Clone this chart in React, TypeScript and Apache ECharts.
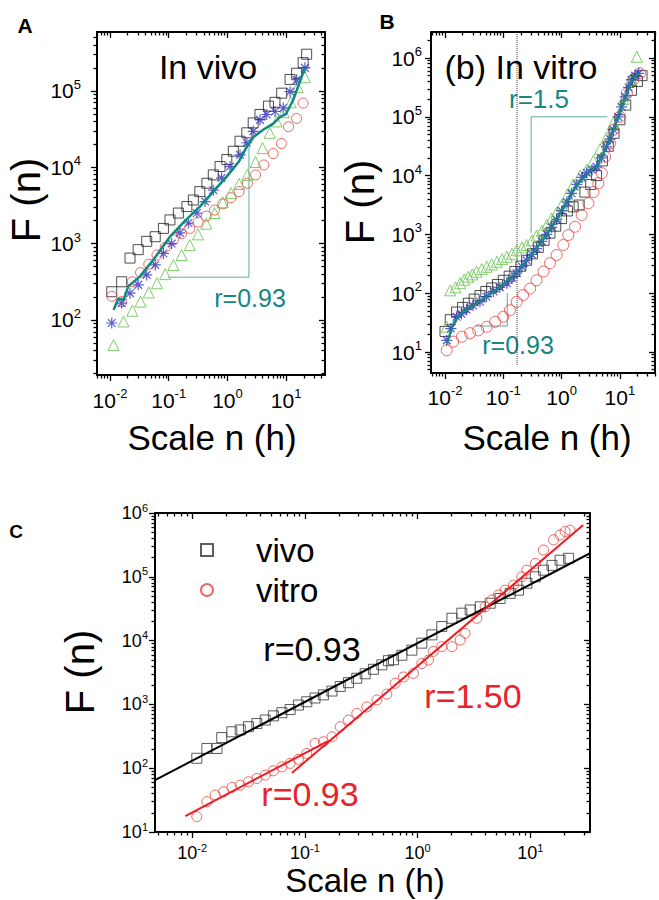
import React, { useEffect, useRef } from 'react';
import * as echarts from 'echarts';

const FONT = '"Liberation Sans", Arial, Helvetica, sans-serif';

// ---------- tick labels (decades) ----------
const xDecadesA = [0.01, 0.1, 1, 10];
const yDecadesA = [100, 1000, 10000, 100000];
const xDecadesB = [0.01, 0.1, 1, 10];
const yDecadesB = [10, 100, 1000, 10000, 100000, 1000000];
const xDecadesC = [0.01, 0.1, 1, 10];
const yDecadesC = [10, 100, 1000, 10000, 100000, 1000000];

// ---------- Panel A (in vivo) ----------
const aSqX = [0.0107, 0.0158, 0.0219, 0.0302, 0.0422, 0.0589, 0.0813, 0.105, 0.146, 0.204, 0.263, 0.339, 0.447, 0.575, 0.75, 0.977, 1.26, 1.64, 2.14, 2.75, 3.59, 5.01, 6.46, 8.41, 11.7, 15.1, 19.5, 22.4];
const aSqY = [234, 316, 646, 832, 1070, 1230, 1580, 2040, 2510, 3050, 3720, 4790, 6170, 7940, 10200, 12600, 16200, 21900, 28200, 38000, 49000, 63100, 70800, 93300, 141000, 170000, 234000, 302000];
const aCiX = [0.0107, 0.0158, 0.024, 0.0331, 0.0457, 0.0631, 0.0871, 0.12, 0.166, 0.229, 0.316, 0.437, 0.603, 0.832, 1.15, 1.58, 2.19, 3.02, 4.17, 6.03, 8.32, 11.0, 15.1, 19.5];
const aCiY = [204, 174, 316, 417, 537, 708, 891, 1120, 1350, 1580, 1910, 2290, 2750, 3310, 3980, 4790, 6170, 7940, 10700, 15100, 20400, 33900, 43600, 69200];
const aTrX = [0.0115, 0.017, 0.024, 0.0331, 0.0457, 0.0631, 0.0871, 0.12, 0.166, 0.229, 0.316, 0.437, 0.603, 0.832, 1.15, 1.58, 2.19, 3.02, 3.98, 5.25, 6.92, 9.12, 12.0, 15.8, 20.9];
const aTrY = [46.8, 95.5, 132, 174, 229, 302, 398, 525, 708, 955, 1320, 1820, 2510, 3470, 4570, 6030, 7940, 11700, 17800, 28200, 39800, 52500, 70800, 112000, 151000];
const aStX = [0.0107, 0.0158, 0.0219, 0.0302, 0.0422, 0.0589, 0.0813, 0.112, 0.155, 0.216, 0.302, 0.417, 0.575, 0.794, 1.11, 1.64, 2.14, 2.75, 3.59, 4.68, 6.46, 8.91, 11.7, 15.1, 20.9];
const aStY = [91.2, 166, 224, 288, 389, 525, 741, 1000, 1380, 1860, 2510, 3550, 5010, 7240, 10200, 14500, 20900, 29500, 41700, 49000, 53700, 59600, 97700, 140000, 200000];
const aAvgX = [0.0115, 0.0138, 0.017, 0.0204, 0.0324, 0.055, 0.105, 0.191, 0.339, 0.575, 0.977, 1.58, 2.14, 2.82, 4.07, 6.03, 7.94, 10, 13.2, 20.9];
const aAvgY = [135, 191, 182, 275, 372, 617, 1230, 2000, 3050, 4790, 7590, 12000, 18600, 25100, 30900, 37200, 45700, 50100, 75900, 200000];
const aSlopeX = [0.097, 2.33, 2.33];
const aSlopeY = [363, 363, 21000];

// ---------- Panel B (in vitro) ----------
const bSqX = [0.01, 0.0123, 0.0158, 0.02, 0.0251, 0.0316, 0.0398, 0.0501, 0.0631, 0.0794, 0.1, 0.126, 0.158, 0.2, 0.251, 0.316, 0.398, 0.501, 0.631, 0.794, 1.0, 1.26, 1.58, 2.0, 2.51, 3.16, 3.98, 5.01, 6.31, 7.94, 10, 12.6, 15.8, 20, 24];
const bSqY = [22.4, 35.5, 47.9, 57.5, 67.6, 79.4, 91.2, 107, 123, 141, 166, 195, 234, 288, 363, 468, 603, 794, 1050, 1380, 1860, 2510, 2950, 3160, 5250, 7080, 10000, 17800, 31600, 52500, 89100, 158000, 282000, 398000, 501000];
const bCiX = [0.0107, 0.0138, 0.0195, 0.0269, 0.0372, 0.0519, 0.0724, 0.1, 0.13, 0.17, 0.219, 0.288, 0.372, 0.49, 0.631, 0.822, 1.07, 1.3, 1.7, 2.21, 2.88, 3.51, 4.27, 4.9, 5.56, 6.76, 7.76, 10, 13.2, 17.0, 22.1];
const bCiY = [10.7, 15.0, 18.2, 20.9, 23.4, 26.9, 32.7, 39.8, 51.3, 71.6, 93.3, 120, 166, 234, 324, 447, 661, 977, 1350, 2140, 3390, 5250, 7410, 11000, 20900, 35500, 60300, 100000, 251000, 427000, 550000];
const bTrX = [0.0107, 0.0123, 0.0151, 0.0182, 0.0214, 0.0251, 0.0295, 0.0347, 0.0427, 0.0519, 0.0631, 0.0776, 0.0955, 0.115, 0.141, 0.17, 0.209, 0.251, 0.309, 0.372, 0.457, 0.556, 0.676, 0.822, 1.0, 1.26, 1.58, 2.07, 2.69, 3.51, 4.57, 5.89, 7.76, 11.5, 15.8, 19.5];
const bTrY = [26.9, 112, 126, 148, 170, 191, 209, 232, 257, 282, 309, 343, 380, 417, 468, 537, 600, 661, 794, 955, 1150, 1450, 1860, 2340, 3160, 4790, 7080, 10000, 12600, 17800, 28200, 44700, 79400, 200000, 447000, 1050000];
const bStX = [0.0107, 0.0126, 0.0158, 0.0191, 0.0234, 0.0302, 0.0398, 0.0513, 0.0676, 0.0871, 0.115, 0.141, 0.17, 0.209, 0.251, 0.309, 0.372, 0.457, 0.556, 0.676, 0.822, 1.0, 1.23, 1.48, 1.82, 2.24, 2.69, 3.31, 3.98, 4.79, 5.89, 6.76, 7.76, 9.33, 10.7, 12.3, 14.1, 15.8, 18.2, 20.9];
const bStY = [15.8, 25.1, 39.8, 44.7, 52.5, 61.7, 71.6, 87.1, 107, 126, 148, 182, 219, 282, 363, 457, 575, 759, 1000, 1320, 1780, 2510, 3550, 5010, 7080, 9330, 11200, 12600, 14100, 20000, 30900, 41700, 60300, 100000, 148000, 219000, 316000, 427000, 501000, 550000];
const bAvgX = [0.0107, 0.0141, 0.02, 0.0398, 0.0794, 0.158, 0.316, 0.562, 1.0, 1.78, 2.82, 3.98, 5.62, 7.94, 11.2, 15.8, 20.9];
const bAvgY = [14.1, 31.6, 47.9, 74.1, 120, 209, 470, 1000, 2510, 6760, 11000, 14100, 28200, 63100, 166000, 398000, 550000];
const bSlopeHiX = [0.30, 0.30, 6.1];
const bSlopeHiY = [1070, 100000, 100000];
const bSlopeLoX = [0.033, 0.117, 0.117];
const bSlopeLoY = [27.7, 27.7, 100];
const bCrossX = [0.172, 0.172];
const bCrossY = [6, 2750000];

// ---------- Panel C (vivo vs vitro) ----------
const cSqX = [0.011, 0.0135, 0.0166, 0.0183, 0.0225, 0.0267, 0.0316, 0.0375, 0.0445, 0.0526, 0.0625, 0.074, 0.0877, 0.104, 0.123, 0.146, 0.174, 0.206, 0.244, 0.289, 0.343, 0.406, 0.482, 0.552, 0.612, 0.726, 0.89, 1.09, 1.34, 1.64, 2.02, 2.47, 2.93, 3.6, 4.41, 5.4, 6.64, 7.87, 9.33, 11.1, 13.1, 15.6, 18.4, 21.9];
const cSqY = [143, 204, 204, 302, 372, 398, 447, 501, 569, 661, 741, 832, 977, 1100, 1260, 1410, 1620, 1910, 2190, 2570, 3020, 3550, 4170, 4840, 5010, 5890, 7080, 9120, 12300, 16600, 22400, 26900, 30200, 33900, 38500, 45700, 55000, 61700, 79400, 100000, 127000, 151000, 182000, 195000];
const cCiX = [0.011, 0.0135, 0.016, 0.019, 0.0225, 0.0267, 0.0316, 0.0375, 0.0445, 0.0526, 0.0625, 0.074, 0.0877, 0.104, 0.123, 0.146, 0.174, 0.206, 0.244, 0.289, 0.355, 0.436, 0.534, 0.633, 0.75, 0.92, 1.09, 1.25, 1.38, 1.64, 2.02, 2.39, 2.64, 3.36, 3.98, 4.57, 5.22, 5.98, 7.1, 8.41, 9.33, 11.1, 13.1, 16.1, 18.4, 20.4, 22.6];
const cCiY = [17.4, 29.9, 38, 42.7, 50, 54, 61.3, 69, 78, 91, 105, 119, 138, 170, 245, 260, 310, 447, 569, 724, 912, 1175, 1450, 2140, 2690, 3060, 4370, 4950, 6760, 8040, 8040, 10200, 13000, 22400, 33900, 43600, 51900, 61700, 74100, 100000, 127000, 162000, 263000, 380000, 452000, 513000, 537000];
const cFitVivoX = [0.00468, 33.9];
const cFitVivoY = [65, 234000];
const cFitVitroLoX = [0.0087, 0.16];
const cFitVitroLoY = [17.8, 265];
const cFitVitroHiX = [0.0767, 29.5];
const cFitVitroHiY = [84, 646000];

// ---------- helpers ----------
const zip = (xs: number[], ys: number[]) => xs.map((x, i) => [x, ys[i]]);

function minorTicks(lo: number, hi: number) {
  const out: number[] = [];
  for (let d = lo; d <= hi; d++) {
    for (let k = 2; k <= 9; k++) out.push(Number((k * Math.pow(10, d)).toPrecision(6)));
  }
  return out;
}

function supLabel(v: number) {
  const e = Math.round(Math.log10(v));
  return `{b|10}{s|${e}}`;
}

const richBig = {
  b: { fontSize: 21, lineHeight: 26, fontFamily: FONT, color: '#000' },
  s: { fontSize: 13, lineHeight: 10, verticalAlign: 'top', fontFamily: FONT, color: '#000' },
};
const richSmall = {
  b: { fontSize: 18, lineHeight: 22, fontFamily: FONT, color: '#000' },
  s: { fontSize: 11, lineHeight: 8, verticalAlign: 'top', fontFamily: FONT, color: '#000' },
};

function axisSet(dim: 'x' | 'y', gridIndex: number, min: number, max: number, major: number[], rich: any, margin: number) {
  const pos = dim === 'x' ? ['bottom', 'top'] : ['left', 'right'];
  const minor = minorTicks(Math.floor(Math.log10(min)), Math.ceil(Math.log10(max)));
  const common = {
    type: 'log', logBase: 10, gridIndex, min, max,
    splitLine: { show: false }, minorTick: { show: false }, splitArea: { show: false },
  };
  const tickStyle = { color: '#000', width: 1.3 };
  return [
    {
      ...common, position: pos[0],
      axisLine: { show: true, lineStyle: { color: '#000', width: 2 } },
      axisTick: { show: true, inside: false, length: 6, customValues: major, lineStyle: tickStyle },
      axisLabel: { show: true, customValues: major, margin, formatter: supLabel, rich },
    },
    {
      ...common, position: pos[0],
      axisLine: { show: false },
      axisTick: { show: true, inside: false, length: 3.5, customValues: minor, lineStyle: tickStyle },
      axisLabel: { show: false },
    },
    {
      ...common, position: pos[1],
      axisLine: { show: true, lineStyle: { color: '#000', width: 2 } },
      axisTick: { show: true, inside: true, length: 6, customValues: major, lineStyle: tickStyle },
      axisLabel: { show: false },
    },
    {
      ...common, position: pos[1],
      axisLine: { show: false },
      axisTick: { show: true, inside: true, length: 3.5, customValues: minor, lineStyle: tickStyle },
      axisLabel: { show: false },
    },
  ];
}

const STAR = 'path://M5,0L5,10M0,5L10,5M1.5,1.5L8.5,8.5M1.5,8.5L8.5,1.5';

const C_BLACK = '#222';
const C_RED = '#e8413c';
const C_GREEN = '#5ec143';
const C_BLUE = '#3434c0';
const C_TEAL = '#12897f';
const C_TEAL_THIN = '#5fa9a3';
const C_RED_LINE = '#ee1c24';

function scatter(name: string, xi: number, data: number[][], symbol: string, size: number, color: string, z = 2, bw = 1) {
  return {
    type: 'scatter', name, xAxisIndex: xi, yAxisIndex: xi, data, symbol, symbolSize: size,
    itemStyle: { color: 'rgba(0,0,0,0)', borderColor: color, borderWidth: bw },
    silent: true, z, emphasis: { disabled: true },
  };
}

function line(name: string, xi: number, data: number[][], color: string, width: number, type: string = 'solid', z = 3) {
  return {
    type: 'line', name, xAxisIndex: xi, yAxisIndex: xi, data, symbol: 'none',
    lineStyle: { color, width, type }, silent: true, z, clip: true, emphasis: { disabled: true },
  };
}

function text(t: string, x: number, y: number, size: number, color = '#000', opts: any = {}) {
  return {
    type: 'text', x, y, rotation: opts.rotation || 0, silent: true,
    style: {
      text: t, fill: color, fontSize: size, fontFamily: FONT, fontWeight: opts.bold ? 'bold' : 'normal',
      align: 'center', verticalAlign: 'middle',
    },
  };
}

export default function App() {
  const ref = useRef<HTMLDivElement>(null);
  useEffect(() => {
    if (!ref.current) return;
    const chart = echarts.init(ref.current, undefined, { renderer: 'svg' });
    const option: any = {
      animation: false,
      backgroundColor: '#fff',
      textStyle: { fontFamily: FONT },
      grid: [
        { left: 97, top: 32, width: 228, height: 343, outerBoundsMode: 'none', containLabel: false },
        { left: 431, top: 32, width: 224, height: 341, outerBoundsMode: 'none', containLabel: false },
        { left: 155, top: 513, width: 435, height: 319, outerBoundsMode: 'none', containLabel: false },
      ],
      xAxis: [
        ...axisSet('x', 0, 0.006, 46, xDecadesA, richBig, 12),
        ...axisSet('x', 1, 0.00575, 40, xDecadesB, richBig, 11),
        ...axisSet('x', 2, 0.00468, 33.9, xDecadesC, richSmall, 10),
      ],
      yAxis: [
        ...axisSet('y', 0, 19, 590000, yDecadesA, richBig, 16),
        ...axisSet('y', 1, 4.4, 2770000, yDecadesB, richBig, 9),
        ...axisSet('y', 2, 10, 1000000, yDecadesC, richSmall, 7),
      ],
      legend: {
        data: ['vivo', 'vitro'], left: 200, top: 530, orient: 'vertical', padding: 0,
        itemWidth: 12, itemHeight: 12, itemGap: 0, selectedMode: false,
        textStyle: { fontSize: 33, fontFamily: FONT, color: '#000', lineHeight: 40, padding: [0, 0, 0, 38] },
      },
      series: [
        // Panel A
        line('A slope', 0, zip(aSlopeX, aSlopeY), C_TEAL_THIN, 1, 'solid', 1),
        scatter('A vivo 1', 0, zip(aSqX, aSqY), 'rect', 10, C_BLACK),
        scatter('A vivo 2', 0, zip(aCiX, aCiY), 'circle', 10, C_RED),
        scatter('A vivo 3', 0, zip(aTrX, aTrY), 'triangle', 11, C_GREEN),
        scatter('A vivo 4', 0, zip(aStX, aStY), STAR, 11, C_BLUE, 2, 1.2),
        line('A mean', 0, zip(aAvgX, aAvgY), C_TEAL, 2.5, 'solid', 4),
        // Panel B
        line('B slope hi', 4, zip(bSlopeHiX, bSlopeHiY), C_TEAL_THIN, 1, 'solid', 1),
        line('B slope lo', 4, zip(bSlopeLoX, bSlopeLoY), C_TEAL_THIN, 1, 'solid', 1),
        line('B crossover', 4, zip(bCrossX, bCrossY), '#333', 1, 'dotted', 1),
        scatter('B vitro 1', 4, zip(bSqX, bSqY), 'rect', 10, C_BLACK),
        scatter('B vitro 2', 4, zip(bCiX, bCiY), 'circle', 11, C_RED),
        scatter('B vitro 3', 4, zip(bTrX, bTrY), 'triangle', 11, C_GREEN),
        scatter('B vitro 4', 4, zip(bStX, bStY), STAR, 11, C_BLUE, 2, 1.3),
        line('B mean', 4, zip(bAvgX, bAvgY), C_TEAL, 2.2, 'solid', 4),
        // Panel C
        scatter('vivo', 8, zip(cSqX, cSqY), 'rect', 10, '#333'),
        scatter('vitro', 8, zip(cCiX, cCiY), 'circle', 10, C_RED),
        line('vivo fit', 8, zip(cFitVivoX, cFitVivoY), '#000', 2),
        line('vitro fit low', 8, zip(cFitVitroLoX, cFitVitroLoY), C_RED_LINE, 2),
        line('vitro fit high', 8, zip(cFitVitroHiX, cFitVitroHiY), C_RED_LINE, 2),
      ],
      graphic: [
        text('A', 25, 25, 21, '#000', { bold: true }),
        text('B', 387, 21, 21, '#000', { bold: true }),
        text('C', 16, 531, 19, '#000', { bold: true }),
        text('In vivo', 208, 67, 34),
        text('r=0.93', 250, 298, 25, '#17877f'),
        text('(b) In vitro', 521, 67, 34),
        text('r=1.5', 539, 99, 26, '#17877f'),
        text('r=0.93', 518, 345, 25, '#17877f'),
        text('r=0.93', 312, 649, 34),
        text('r=1.50', 473, 696, 34, '#e8232a'),
        text('r=0.93', 310, 794, 34, '#e8232a'),
        text('Scale n (h)', 212, 437, 35),
        text('Scale n (h)', 547, 437, 35),
        text('Scale n (h)', 365, 880, 33),
        text('F (n)', 26, 200, 40, '#000', { rotation: Math.PI / 2 }),
        text('F (n)', 360, 202, 40, '#000', { rotation: Math.PI / 2 }),
        text('F (n)', 80, 672, 40, '#000', { rotation: Math.PI / 2 }),
      ],
    };
    chart.setOption(option);
    return () => chart.dispose();
  }, []);
  return <div ref={ref} style={{ position: 'absolute', left: 0, top: 0, width: 659, height: 900 }} />;
}
